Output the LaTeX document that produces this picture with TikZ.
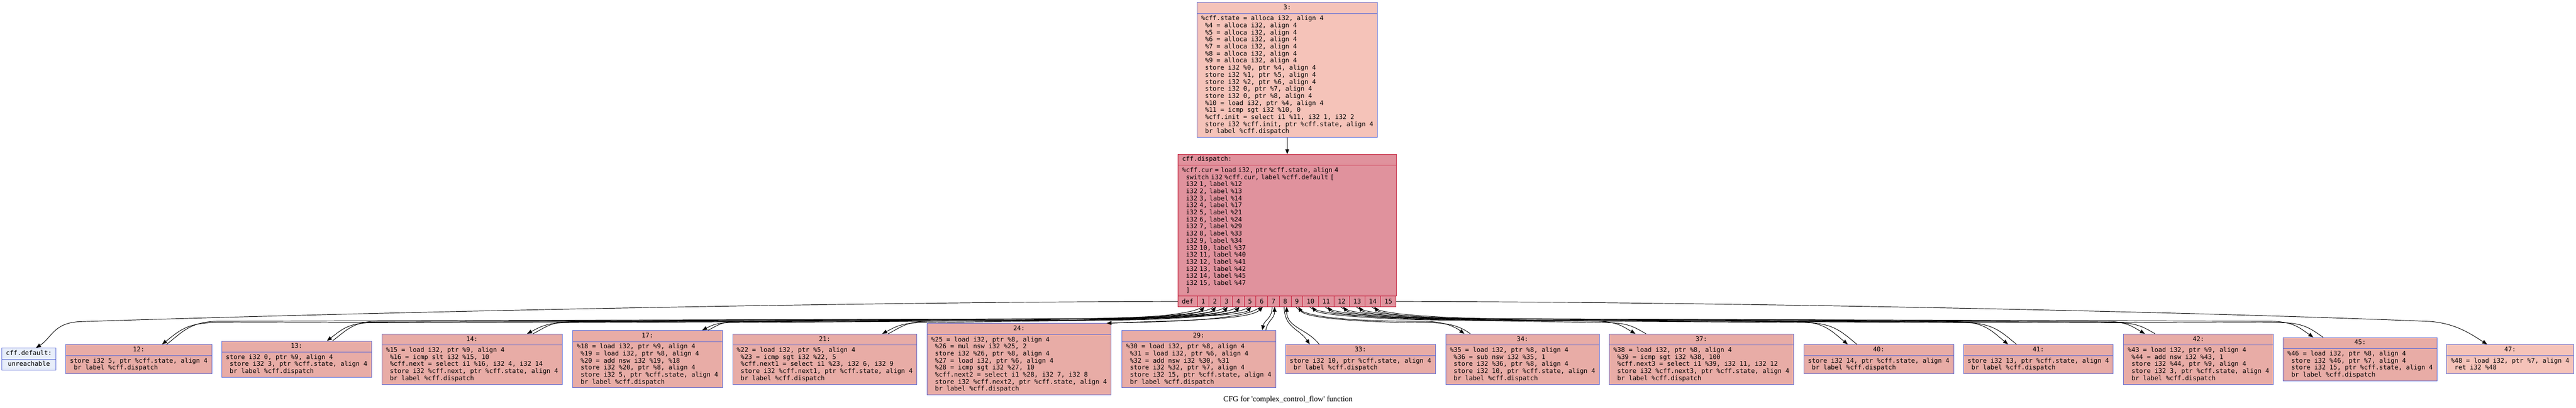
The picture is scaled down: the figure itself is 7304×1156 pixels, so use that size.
\documentclass[tikz,border=0pt]{standalone}
\usepackage{fontspec}
\setmonofont{DejaVu Sans Mono}
\newfontfamily\capfont{Liberation Serif}
\usetikzlibrary{shapes.multipart,arrows.meta,calc}

\definecolor{entryfill}{HTML}{F5C3B9}
\definecolor{dispfill}{HTML}{E0929D}
\definecolor{displine}{HTML}{C41E3A}
\definecolor{bodyfill}{HTML}{E8ACA6}
\definecolor{deffill}{HTML}{E8EEFA}
\definecolor{boxline}{HTML}{5B6BD6}

\newcommand\lstrut{\rule[-2.8pt]{0pt}{10pt}}
\newcommand\ind{\phantom{x}}

\tikzset{
  bb/.style={rectangle split, rectangle split parts=2, draw=boxline, fill=bodyfill,
    line width=0.7pt, align=left, inner xsep=6pt, inner ysep=2.5pt,
    font=\ttfamily\fontsize{9}{10}\selectfont},
  port/.style={draw=displine, fill=dispfill, line width=0.7pt, inner xsep=5.6pt,
    inner ysep=0pt, minimum height=15pt, outer sep=0pt, anchor=north west,
    font=\ttfamily\fontsize{9}{10}\selectfont},
  edge/.style={line width=0.7pt, -{Triangle[length=7pt,width=5.5pt]}}
}

\begin{document}
\begin{tikzpicture}[x=0.5pt, y=-0.5pt]
\useasboundingbox (0,0) rectangle (7304,1156);

% entry block and dispatcher
\node (entry) [bb, fill=entryfill, anchor=north] at (3650,6) {\lstrut 3:
  \nodepart{two}\lstrut \%cff.state = alloca i32, align 4\\
  \ind\%4 = alloca i32, align 4\\
  \ind\%5 = alloca i32, align 4\\
  \ind\%6 = alloca i32, align 4\\
  \ind\%7 = alloca i32, align 4\\
  \ind\%8 = alloca i32, align 4\\
  \ind\%9 = alloca i32, align 4\\
  \ind store i32 \%0, ptr \%4, align 4\\
  \ind store i32 \%1, ptr \%5, align 4\\
  \ind store i32 \%2, ptr \%6, align 4\\
  \ind store i32 0, ptr \%7, align 4\\
  \ind store i32 0, ptr \%8, align 4\\
  \ind\%10 = load i32, ptr \%4, align 4\\
  \ind\%11 = icmp sgt i32 \%10, 0\\
  \ind\%cff.init = select i1 \%11, i32 1, i32 2\\
  \ind store i32 \%cff.init, ptr \%cff.state, align 4\\
  \ind br label \%cff.dispatch\lstrut};

\node (disp) [bb, draw=displine, fill=dispfill, text width=297.75pt, outer sep=0pt,
  anchor=north west] at (3340,437) {\lstrut cff.dispatch:
  \nodepart{two}\lstrut \%cff.cur = load i32, ptr \%cff.state, align 4\\
  \ind switch i32 \%cff.cur, label \%cff.default [\\
  \ind i32 1, label \%12\\
  \ind i32 2, label \%13\\
  \ind i32 3, label \%14\\
  \ind i32 4, label \%17\\
  \ind i32 5, label \%21\\
  \ind i32 6, label \%24\\
  \ind i32 7, label \%29\\
  \ind i32 8, label \%33\\
  \ind i32 9, label \%34\\
  \ind i32 10, label \%37\\
  \ind i32 11, label \%40\\
  \ind i32 12, label \%41\\
  \ind i32 13, label \%42\\
  \ind i32 14, label \%45\\
  \ind i32 15, label \%47\\
  \ind ]\lstrut};

% switch ports
\node (pdef) [port] at (disp.south west) {def};
\node (p1) [port] at (pdef.north east) {1};
\node (p2) [port] at (p1.north east) {2};
\node (p3) [port] at (p2.north east) {3};
\node (p4) [port] at (p3.north east) {4};
\node (p5) [port] at (p4.north east) {5};
\node (p6) [port] at (p5.north east) {6};
\node (p7) [port] at (p6.north east) {7};
\node (p8) [port] at (p7.north east) {8};
\node (p9) [port] at (p8.north east) {9};
\node (p10) [port] at (p9.north east) {10};
\node (p11) [port] at (p10.north east) {11};
\node (p12) [port] at (p11.north east) {12};
\node (p13) [port] at (p12.north east) {13};
\node (p14) [port] at (p13.north east) {14};
\node (p15) [port] at (p14.north east) {15};

% case blocks
\node (bdef) [bb, fill=deffill] at (82,1018.5) {\lstrut cff.default:
  \nodepart{two}\lstrut unreachable};
\node (b12) [bb] at (393.5,1018.5) {\lstrut 12:
  \nodepart{two}\lstrut store i32 5, ptr \%cff.state, align 4\\
  \ind br label \%cff.dispatch\lstrut};
\node (b13) [bb] at (841,1018.5) {\lstrut 13:
  \nodepart{two}\lstrut store i32 0, ptr \%9, align 4\\
  \ind store i32 3, ptr \%cff.state, align 4\\
  \ind br label \%cff.dispatch\lstrut};
\node (b14) [bb] at (1338.5,1018.5) {\lstrut 14:
  \nodepart{two}\lstrut \%15 = load i32, ptr \%9, align 4\\
  \ind\%16 = icmp slt i32 \%15, 10\\
  \ind\%cff.next = select i1 \%16, i32 4, i32 14\\
  \ind store i32 \%cff.next, ptr \%cff.state, align 4\\
  \ind br label \%cff.dispatch\lstrut};
\node (b17) [bb] at (1836,1018.5) {\lstrut 17:
  \nodepart{two}\lstrut \%18 = load i32, ptr \%9, align 4\\
  \ind\%19 = load i32, ptr \%8, align 4\\
  \ind\%20 = add nsw i32 \%19, \%18\\
  \ind store i32 \%20, ptr \%8, align 4\\
  \ind store i32 5, ptr \%cff.state, align 4\\
  \ind br label \%cff.dispatch\lstrut};
\node (b21) [bb] at (2338.5,1018.5) {\lstrut 21:
  \nodepart{two}\lstrut \%22 = load i32, ptr \%5, align 4\\
  \ind\%23 = icmp sgt i32 \%22, 5\\
  \ind\%cff.next1 = select i1 \%23, i32 6, i32 9\\
  \ind store i32 \%cff.next1, ptr \%cff.state, align 4\\
  \ind br label \%cff.dispatch\lstrut};
\node (b24) [bb] at (2889.5,1018.5) {\lstrut 24:
  \nodepart{two}\lstrut \%25 = load i32, ptr \%8, align 4\\
  \ind\%26 = mul nsw i32 \%25, 2\\
  \ind store i32 \%26, ptr \%8, align 4\\
  \ind\%27 = load i32, ptr \%6, align 4\\
  \ind\%28 = icmp sgt i32 \%27, 10\\
  \ind\%cff.next2 = select i1 \%28, i32 7, i32 8\\
  \ind store i32 \%cff.next2, ptr \%cff.state, align 4\\
  \ind br label \%cff.dispatch\lstrut};
\node (b29) [bb] at (3399,1018.5) {\lstrut 29:
  \nodepart{two}\lstrut \%30 = load i32, ptr \%8, align 4\\
  \ind\%31 = load i32, ptr \%6, align 4\\
  \ind\%32 = add nsw i32 \%30, \%31\\
  \ind store i32 \%32, ptr \%7, align 4\\
  \ind store i32 15, ptr \%cff.state, align 4\\
  \ind br label \%cff.dispatch\lstrut};
\node (b33) [bb] at (3857.5,1018.5) {\lstrut 33:
  \nodepart{two}\lstrut store i32 10, ptr \%cff.state, align 4\\
  \ind br label \%cff.dispatch\lstrut};
\node (b34) [bb] at (4317,1018.5) {\lstrut 34:
  \nodepart{two}\lstrut \%35 = load i32, ptr \%8, align 4\\
  \ind\%36 = sub nsw i32 \%35, 1\\
  \ind store i32 \%36, ptr \%8, align 4\\
  \ind store i32 10, ptr \%cff.state, align 4\\
  \ind br label \%cff.dispatch\lstrut};
\node (b37) [bb] at (4824,1018.5) {\lstrut 37:
  \nodepart{two}\lstrut \%38 = load i32, ptr \%8, align 4\\
  \ind\%39 = icmp sgt i32 \%38, 100\\
  \ind\%cff.next3 = select i1 \%39, i32 11, i32 12\\
  \ind store i32 \%cff.next3, ptr \%cff.state, align 4\\
  \ind br label \%cff.dispatch\lstrut};
\node (b40) [bb] at (5327,1018.5) {\lstrut 40:
  \nodepart{two}\lstrut store i32 14, ptr \%cff.state, align 4\\
  \ind br label \%cff.dispatch\lstrut};
\node (b41) [bb] at (5779.5,1018.5) {\lstrut 41:
  \nodepart{two}\lstrut store i32 13, ptr \%cff.state, align 4\\
  \ind br label \%cff.dispatch\lstrut};
\node (b42) [bb] at (6233.5,1018.5) {\lstrut 42:
  \nodepart{two}\lstrut \%43 = load i32, ptr \%9, align 4\\
  \ind\%44 = add nsw i32 \%43, 1\\
  \ind store i32 \%44, ptr \%9, align 4\\
  \ind store i32 3, ptr \%cff.state, align 4\\
  \ind br label \%cff.dispatch\lstrut};
\node (b45) [bb] at (6692,1018.5) {\lstrut 45:
  \nodepart{two}\lstrut \%46 = load i32, ptr \%8, align 4\\
  \ind store i32 \%46, ptr \%7, align 4\\
  \ind store i32 15, ptr \%cff.state, align 4\\
  \ind br label \%cff.dispatch\lstrut};
\node (b47) [bb, fill=entryfill] at (7117,1018.5) {\lstrut 47:
  \nodepart{two}\lstrut \%48 = load i32, ptr \%7, align 4\\
  \ind ret i32 \%48\lstrut};

\node (cap) [font=\capfont\fontsize{11}{13}\selectfont] at (3652,1134)
  {CFG for \textquotesingle complex\_control\_flow\textquotesingle{} function};

% edges
\draw[edge] (entry.south) -- (disp.north);
\draw[edge] (pdef.west) .. controls (2500,856) and (1200,881) .. (230,912) .. controls (152,914) and (147,958) .. ($(bdef.north)+(20,0)$);
\draw[edge] (p15.east) .. controls (4800,856) and (6100,880) .. (6880,911) .. controls (6960,914) and (7007,948) .. ($(b47.north)+(-65,0)$);

\draw[edge] ($(p1.south)+(-4,0)$) .. controls +(-20,25) and +(180,0) .. (2991,908) -- (610,915) .. controls +(-82,0) and +(45,-35) .. ($(b12.north)+(66,0)$);
\draw[edge] ($(b12.north)+(79,0)$) .. controls +(45,-35) and +(-82,0) .. (622,911) -- (2991,904) .. controls +(180,0) and +(-20,25) .. ($(p1.south)+(3,0)$);
\draw[edge] ($(p2.south)+(-4,0)$) .. controls +(-20,25) and +(180,0) .. (3025,908) -- (1057,915) .. controls +(-72,0) and +(39,-29) .. ($(b13.north)+(86,0)$);
\draw[edge] ($(b13.north)+(102,0)$) .. controls +(39,-29) and +(-72,0) .. (1073,911) -- (3025,904) .. controls +(180,0) and +(-20,25) .. ($(p2.south)+(3,0)$);
\draw[edge] ($(p3.south)+(-4,0)$) .. controls +(-20,25) and +(180,0) .. (3058,908) -- (1610,915) .. controls +(-63,0) and +(35,-18) .. ($(b14.north)+(156,0)$);
\draw[edge] ($(b14.north)+(173,0)$) .. controls +(35,-18) and +(-63,0) .. (1627,911) -- (3058,904) .. controls +(180,0) and +(-20,25) .. ($(p3.south)+(3,0)$);
\draw[edge] ($(p4.south)+(-4,0)$) .. controls +(-20,25) and +(180,0) .. (3091,908) -- (2076,915) .. controls +(-47,0) and +(26,-13) .. ($(b17.north)+(155,0)$);
\draw[edge] ($(b17.north)+(172,0)$) .. controls +(26,-13) and +(-47,0) .. (2093,911) -- (3091,904) .. controls +(180,0) and +(-20,25) .. ($(p4.south)+(3,0)$);
\draw[edge] ($(p5.south)+(-4,0)$) .. controls +(-20,25) and +(180,0) .. (3125,908) -- (2617,915) .. controls +(-63,0) and +(35,-18) .. ($(b21.north)+(163,0)$);
\draw[edge] ($(b21.north)+(180,0)$) .. controls +(35,-18) and +(-63,0) .. (2634,911) -- (3125,904) .. controls +(180,0) and +(-20,25) .. ($(p5.south)+(3,0)$);
\draw[edge] ($(p6.south)+(-4,0)$) .. controls +(-40,40) and +(150,-4) .. ($(b24.north)+(248,0)$);
\draw[edge] ($(b24.north)+(262,0)$) .. controls +(150,-8) and +(-40,40) .. ($(p6.south)+(3,0)$);
\draw[edge] ($(p7.south)+(-4,0)$) .. controls +(0,35) and +(6,-30) .. ($(b29.north)+(180,0)$);
\draw[edge] ($(b29.north)+(190,0)$) .. controls +(6,-30) and +(0,35) .. ($(p7.south)+(3,0)$);

\draw[edge] ($(p8.south)+(-3,0)$) .. controls +(0,60) and +(-30,-45) .. ($(b33.north)+(-144,0)$);
\draw[edge] ($(b33.north)+(-117,0)$) .. controls +(-35,-45) and +(0,60) .. ($(p8.south)+(4,0)$);
\draw[edge] ($(p9.south)+(-3,0)$) .. controls +(20,35) and +(-150,0) .. (4030,911) .. controls +(60,0) and +(-30,-22) .. ($(b34.north)+(-165,0)$);
\draw[edge] ($(b34.north)+(-148,0)$) .. controls +(-30,-22) and +(60,0) .. (4047,915) .. controls +(-150,0) and +(20,35) .. ($(p9.south)+(4,0)$);
\draw[edge] ($(p10.south)+(-3,0)$) .. controls +(20,25) and +(-180,0) .. (4137,904) -- (4522,911) .. controls +(63,0) and +(-35,-20) .. ($(b37.north)+(-187,0)$);
\draw[edge] ($(b37.north)+(-157,0)$) .. controls +(-35,-20) and +(63,0) .. (4552,915) -- (4137,908) .. controls +(-180,0) and +(20,25) .. ($(p10.south)+(4,0)$);
\draw[edge] ($(p11.south)+(-3,0)$) .. controls +(20,25) and +(-180,0) .. (4181,904) -- (5089,911) .. controls +(82,0) and +(-45,-37) .. ($(b40.north)+(-88,0)$);
\draw[edge] ($(b40.north)+(-62,0)$) .. controls +(-45,-37) and +(82,0) .. (5115,915) -- (4181,908) .. controls +(-180,0) and +(20,25) .. ($(p11.south)+(4,0)$);
\draw[edge] ($(p12.south)+(-3,0)$) .. controls +(20,25) and +(-180,0) .. (4225,904) -- (5543,911) .. controls +(82,0) and +(-45,-37) .. ($(b41.north)+(-86,0)$);
\draw[edge] ($(b41.north)+(-62,0)$) .. controls +(-45,-37) and +(82,0) .. (5567,915) -- (4225,908) .. controls +(-180,0) and +(20,25) .. ($(p12.south)+(4,0)$);
\draw[edge] ($(p13.south)+(-3,0)$) .. controls +(20,25) and +(-180,0) .. (4269,904) -- (5966,911) .. controls +(63,0) and +(-35,-20) .. ($(b42.north)+(-152,0)$);
\draw[edge] ($(b42.north)+(-123,0)$) .. controls +(-35,-20) and +(63,0) .. (5995,915) -- (4269,908) .. controls +(-180,0) and +(20,25) .. ($(p13.south)+(4,0)$);
\draw[edge] ($(p14.south)+(-3,0)$) .. controls +(20,25) and +(-180,0) .. (4313,904) -- (6434,911) .. controls +(69,0) and +(-38,-26) .. ($(b45.north)+(-133,0)$);
\draw[edge] ($(b45.north)+(-105,0)$) .. controls +(-38,-26) and +(69,0) .. (6462,915) -- (4313,908) .. controls +(-180,0) and +(20,25) .. ($(p14.south)+(4,0)$);
\end{tikzpicture}
\end{document}
